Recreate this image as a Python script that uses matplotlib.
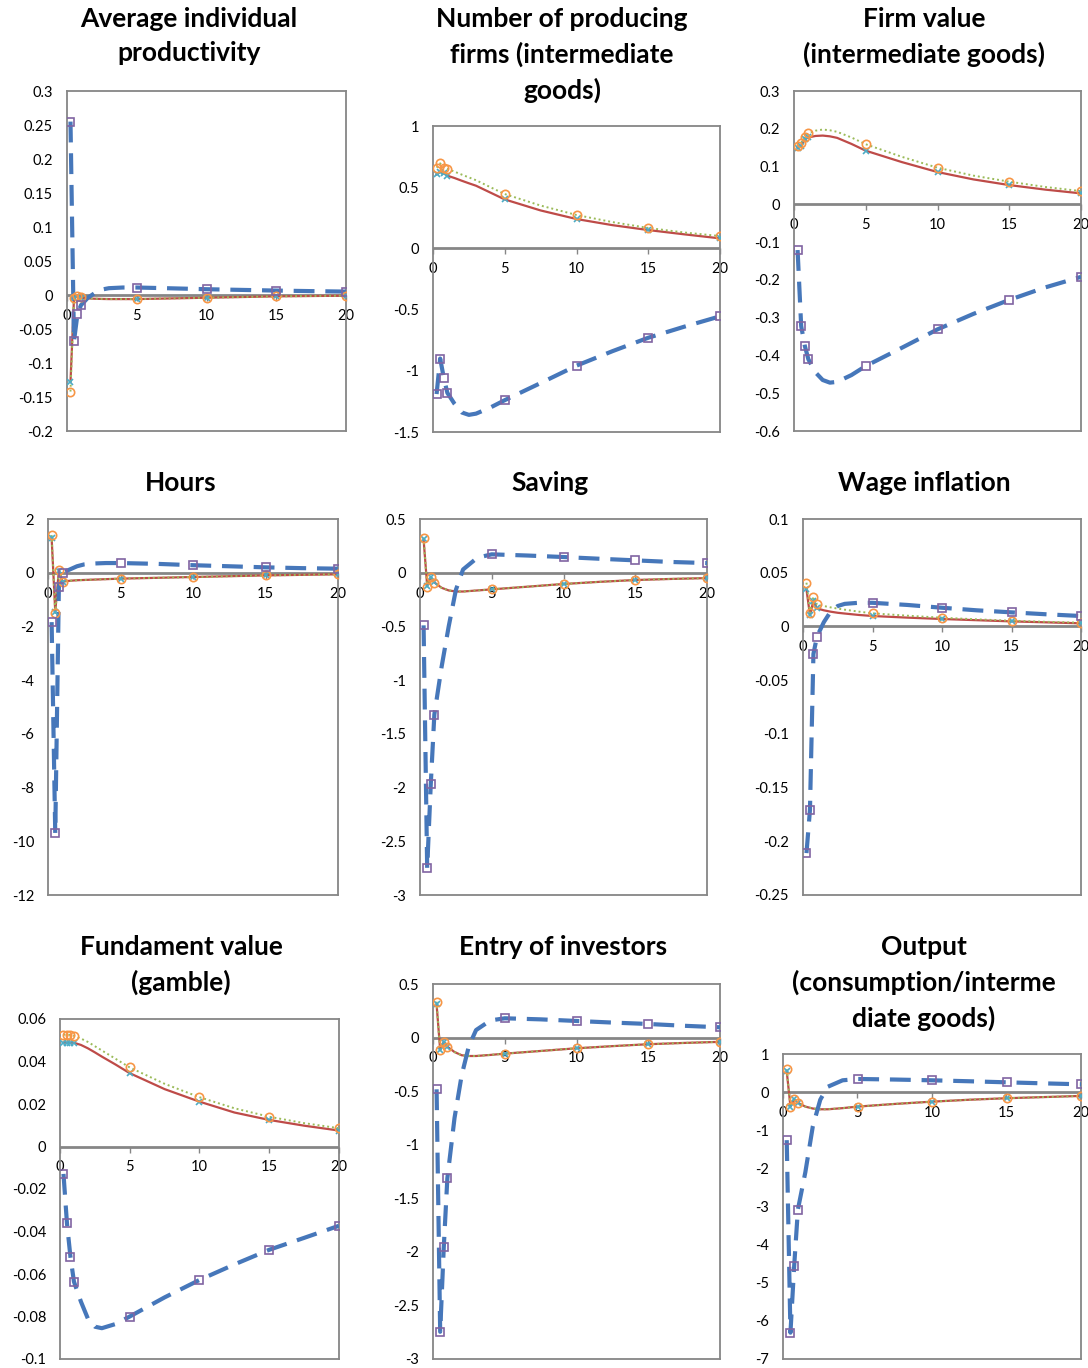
# Impulse responses, 3x3 panel grid (Excel-style charts)
import matplotlib
matplotlib.use("Agg")
import matplotlib.pyplot as plt
import numpy as np

plt.rcParams['font.family'] = ['Lato', 'DejaVu Sans']

# horizon (years) and positions where the markers sit
X = [0.25, 0.5, 0.75, 1, 1.5, 2, 2.5, 3, 4, 5, 7.5, 10, 12.5, 15, 17.5, 20]
MARK_IDX = [0, 1, 2, 3, 9, 11, 13, 15]

titles = [
    "Average individual\nproductivity",
    "Number of producing\nfirms (intermediate\ngoods)",
    "Firm value\n(intermediate goods)",
    "Hours",
    "Saving",
    "Wage inflation",
    "Fundament value\n(gamble)",
    "Entry of investors",
    "Output\n(consumption/interme\ndiate goods)",
]

# dashed blue series (purple square markers)
blue1 = [0.255, -0.068, -0.028, -0.015, -0.004, 0.003, 0.008, 0.010, 0.011, 0.011, 0.0098, 0.0085, 0.0075, 0.0065, 0.0057, 0.005]
blue2 = [-1.19, -0.90, -1.056, -1.18, -1.27, -1.34, -1.36, -1.35, -1.30, -1.24, -1.10, -0.958, -0.84, -0.73, -0.64, -0.555]
blue3 = [-0.121, -0.322, -0.374, -0.41, -0.445, -0.465, -0.472, -0.47, -0.452, -0.428, -0.38, -0.331, -0.29, -0.253, -0.22, -0.192]
blue4 = [-1.84, -9.7, -0.54, 0.0, 0.12, 0.24, 0.31, 0.34, 0.36, 0.36, 0.33, 0.28, 0.24, 0.2, 0.17, 0.15]
blue5 = [-0.49, -2.75, -1.97, -1.32, -0.88, -0.5, -0.16, 0.03, 0.14, 0.171, 0.16, 0.146, 0.13, 0.115, 0.10, 0.09]
blue6 = [-0.211, -0.171, -0.0257, -0.0096, 0.004, 0.014, 0.019, 0.021, 0.022, 0.022, 0.020, 0.0174, 0.015, 0.0131, 0.0113, 0.0097]
blue7 = [-0.0129, -0.0362, -0.052, -0.0636, -0.073, -0.081, -0.0848, -0.0855, -0.0835, -0.080, -0.071, -0.0628, -0.0555, -0.0486, -0.043, -0.0373]
blue8 = [-0.483, -2.746, -1.958, -1.314, -0.75, -0.35, -0.08, 0.07, 0.16, 0.18, 0.17, 0.155, 0.14, 0.127, 0.11, 0.096]
blue9 = [-1.26, -6.31, -4.56, -3.08, -2.1, -0.9, -0.2, 0.14, 0.31, 0.345, 0.33, 0.31, 0.285, 0.257, 0.23, 0.205]

# solid red series (teal x markers)
red1 = [-0.128, -0.005, -0.0015, -0.004, -0.005, -0.0055, -0.0058, -0.006, -0.006, -0.006, -0.005, -0.004, -0.003, -0.002, -0.0015, -0.001]
red2 = [0.605, 0.627, 0.613, 0.594, 0.575, 0.553, 0.532, 0.512, 0.456, 0.40, 0.31, 0.24, 0.19, 0.15, 0.115, 0.082]
red3 = [0.15, 0.154, 0.172, 0.177, 0.181, 0.182, 0.18, 0.176, 0.16, 0.142, 0.112, 0.0855, 0.066, 0.051, 0.039, 0.029]
red4 = [1.3, -1.45, 0.08, -0.33, -0.3, -0.28, -0.27, -0.26, -0.24, -0.22, -0.19, -0.16, -0.13, -0.1, -0.08, -0.06]
red5 = [0.31, -0.12, -0.04, -0.09, -0.14, -0.165, -0.175, -0.175, -0.165, -0.155, -0.13, -0.105, -0.085, -0.068, -0.058, -0.05]
red6 = [0.0345, 0.0106, 0.024, 0.0168, 0.015, 0.0137, 0.0127, 0.012, 0.0107, 0.0097, 0.0082, 0.0069, 0.0058, 0.0047, 0.0038, 0.0029]
red7 = [0.0489, 0.0489, 0.0489, 0.0488, 0.0478, 0.0462, 0.0443, 0.0423, 0.0385, 0.0345, 0.027, 0.0211, 0.016, 0.0125, 0.0098, 0.0075]
red8 = [0.31, -0.116, -0.038, -0.085, -0.135, -0.165, -0.172, -0.172, -0.162, -0.15, -0.125, -0.1, -0.08, -0.062, -0.05, -0.04]
red9 = [0.55, -0.38, -0.19, -0.28, -0.38, -0.43, -0.45, -0.45, -0.42, -0.38, -0.31, -0.25, -0.2, -0.16, -0.13, -0.1]

# dotted green series (orange circle markers)
green1 = [-0.142, -0.004, -0.001, -0.003, -0.005, -0.0055, -0.0058, -0.006, -0.006, -0.006, -0.005, -0.004, -0.003, -0.002, -0.0015, -0.001]
green2 = [0.66, 0.695, 0.66, 0.65, 0.627, 0.603, 0.58, 0.557, 0.50, 0.444, 0.35, 0.273, 0.215, 0.167, 0.13, 0.101]
green3 = [0.154, 0.163, 0.179, 0.188, 0.195, 0.198, 0.196, 0.192, 0.177, 0.159, 0.126, 0.097, 0.076, 0.060, 0.046, 0.035]
green4 = [1.4, -1.5, 0.1, -0.33, -0.3, -0.28, -0.27, -0.26, -0.24, -0.22, -0.19, -0.16, -0.13, -0.1, -0.08, -0.06]
green5 = [0.326, -0.13, -0.043, -0.093, -0.14, -0.165, -0.175, -0.175, -0.165, -0.155, -0.13, -0.105, -0.085, -0.068, -0.058, -0.05]
green6 = [0.0407, 0.0128, 0.0277, 0.0206, 0.019, 0.0177, 0.0166, 0.0156, 0.0138, 0.0122, 0.0100, 0.0081, 0.0066, 0.0053, 0.0043, 0.0035]
green7 = [0.0526, 0.0527, 0.0525, 0.0521, 0.0508, 0.0492, 0.0472, 0.0452, 0.0412, 0.0372, 0.0295, 0.0232, 0.018, 0.014, 0.011, 0.0086]
green8 = [0.335, -0.12, -0.04, -0.087, -0.135, -0.165, -0.172, -0.172, -0.162, -0.15, -0.125, -0.1, -0.08, -0.062, -0.05, -0.04]
green9 = [0.6, -0.38, -0.19, -0.28, -0.38, -0.43, -0.45, -0.45, -0.42, -0.38, -0.31, -0.25, -0.2, -0.16, -0.13, -0.1]

blues = [blue1, blue2, blue3, blue4, blue5, blue6, blue7, blue8, blue9]
reds = [red1, red2, red3, red4, red5, red6, red7, red8, red9]
greens = [green1, green2, green3, green4, green5, green6, green7, green8, green9]

# y axis: (min, max, step)
yaxes = [(-0.2, 0.3, 0.05), (-1.5, 1, 0.5), (-0.6, 0.3, 0.1),
         (-12, 2, 2), (-3, 0.5, 0.5), (-0.25, 0.1, 0.05),
         (-0.1, 0.06, 0.02), (-3, 0.5, 0.5), (-7, 1, 1)]

W, H = 1088, 1368
# plot-area boxes in pixels: left, right, top, bottom
boxes = [(67, 346, 91, 431), (433, 720, 126, 432), (794, 1081, 91, 431),
         (48, 338, 519, 895), (420, 707, 519, 895), (803, 1081, 519, 895),
         (60, 339, 1019, 1359), (433, 720, 984, 1359), (783, 1081, 1054, 1359)]
# centre of the first title line, pixels
title_pos = [(189, 20), (562, 20), (924, 20),
             (181, 484), (550, 484), (924, 484),
             (181, 948), (563, 948), (924, 948)]

BLUE = '#4677BA'
PURPLE = '#8064A2'
RED = '#BE4B48'
GREEN = '#9BBB59'
TEAL = '#4BACC6'
ORANGE = '#F79646'
FRAME = '#868686'

fig = plt.figure(figsize=(W / 100, H / 100), dpi=100)

for i in range(9):
    l, r, t, b = boxes[i]
    ax = fig.add_axes([l / W, 1 - b / H, (r - l) / W, (b - t) / H])
    ymin, ymax, step = yaxes[i]

    ax.plot(X, reds[i], color=RED, lw=1.6, zorder=3)
    ax.plot(X, greens[i], color=GREEN, lw=1.4, ls=(0, (1, 1.5)), zorder=3)
    ax.plot(X, blues[i], color=BLUE, lw=3, ls=(0, (5, 2.6)), zorder=4)
    ax.plot(X, reds[i], ls='none', marker='x', ms=5, mew=1.2, color=TEAL,
            markevery=MARK_IDX, zorder=5)
    ax.plot(X, greens[i], ls='none', marker='o', ms=6, mew=1.2, mec=ORANGE,
            mfc='none', markevery=MARK_IDX, zorder=5)
    ax.plot(X, blues[i], ls='none', marker='s', ms=6, mew=1.2, mec=PURPLE,
            mfc='none', markevery=MARK_IDX, zorder=5)

    ax.set_xlim(0, 20)
    ax.set_ylim(ymin, ymax)
    yt = np.round(np.arange(ymin, ymax + step / 2, step), 4) + 0.0
    ax.set_yticks(yt)
    ax.set_yticklabels([f"{v:g}" for v in yt])
    ax.tick_params(axis='y', length=0, pad=10, labelsize=10.5)
    ax.set_xticks([])
    for s in ax.spines.values():
        s.set_color(FRAME)
        s.set_linewidth(1.3)

    # category axis crossing at zero
    ax.axhline(0, color=FRAME, lw=2, zorder=2)
    frac = (0 - ymin) / (ymax - ymin)
    sec = ax.secondary_xaxis(frac)
    sec.xaxis.set_ticks_position('bottom')
    sec.set_xticks([0, 5, 10, 15, 20])
    sec.set_xticklabels(['0', '5', '10', '15', '20'])
    sec.tick_params(axis='x', length=4, width=1, color=FRAME, pad=6,
                    labelsize=10.5, labelbottom=True, labeltop=False,
                    bottom=True, top=False)
    for s in sec.spines.values():
        s.set_visible(False)

    tx, ty = title_pos[i]
    fig.text(tx / W, 1 - (ty - 13) / H, titles[i], ha='center', va='top',
             fontsize=19, fontweight='bold', linespacing=1.5)

fig.savefig('out.png', dpi=100)
